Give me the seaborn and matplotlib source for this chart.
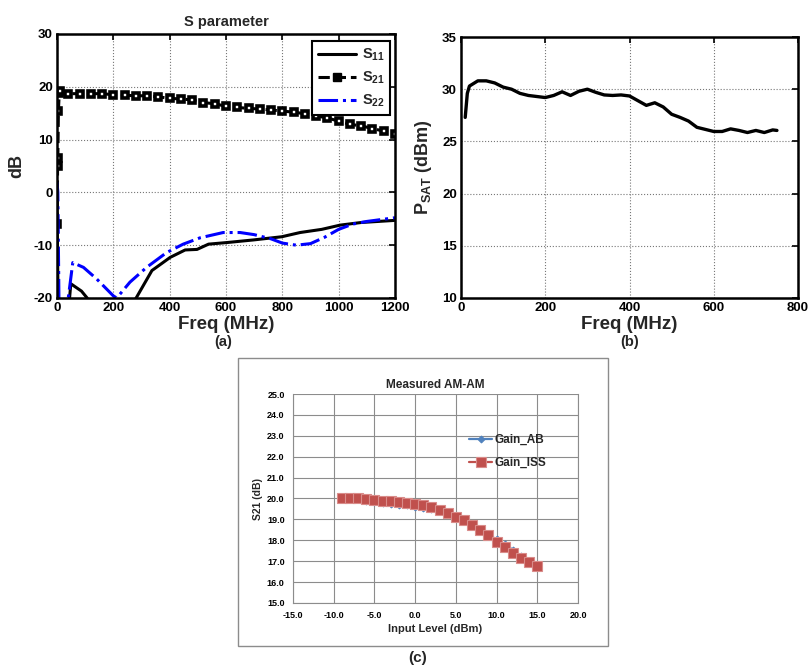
import numpy as np
import pandas as pd
import matplotlib
matplotlib.use("Agg")
import matplotlib.pyplot as plt
import seaborn as sns
from matplotlib.patches import Rectangle
from matplotlib.lines import Line2D

sns.set_style("white")
plt.rcParams['font.family'] = ['Liberation Sans', 'DejaVu Sans']
plt.rcParams['font.weight'] = 'bold'
plt.rcParams['axes.unicode_minus'] = False
plt.rcParams['mathtext.fontset'] = 'custom'
plt.rcParams['mathtext.rm'] = 'Liberation Sans:bold'
plt.rcParams['mathtext.it'] = 'Liberation Sans:bold'
plt.rcParams['mathtext.bf'] = 'Liberation Sans:bold'

# ---------------- data: panel (a) S parameters ----------------
s21_freq = [1, 2, 3, 5, 8, 12, 40, 80, 120, 160, 200, 240, 280, 320, 360, 400, 440, 480,
            520, 560, 600, 640, 680, 720, 760, 800, 840, 880, 920, 960, 1000, 1040,
            1080, 1120, 1160, 1200]
s21_db = [-6.0, 5.0, 6.5, 15.5, 18.8, 19.2, 18.7, 18.7, 18.7, 18.7, 18.5, 18.4, 18.3,
          18.3, 18.1, 17.8, 17.7, 17.5, 17.0, 16.8, 16.3, 16.1, 15.9, 15.8, 15.6, 15.4,
          15.2, 14.9, 14.5, 14.1, 13.5, 12.9, 12.6, 12.1, 11.6, 11.1]

s11_freq = [0, 5, 35, 49, 87, 107, 120, 260, 281, 337, 402, 455, 497, 538, 603, 698,
            798, 863, 940, 1005, 1080, 1200]
s11_db = [-2.0, -26.0, -26.0, -17.3, -18.7, -20.0, -22.0, -22.0, -20.0, -14.8, -12.3,
          -10.9, -10.8, -9.8, -9.5, -9.0, -8.4, -7.6, -7.0, -6.2, -5.7, -5.3]

s22_freq = [0, 3, 8, 30, 40, 56, 94, 141, 200, 212, 259, 318, 389, 448, 508, 590, 650,
            700, 760, 800, 850, 900, 950, 1000, 1050, 1100, 1200]
s22_db = [2.0, 0.0, -26.0, -26.0, -20.0, -13.3, -14.2, -16.4, -19.6, -20.0, -17.0,
          -14.2, -11.4, -9.8, -8.6, -7.6, -7.6, -8.0, -8.8, -9.6, -10.0, -9.7, -8.5,
          -7.0, -6.0, -5.5, -4.8]

# ---------------- data: panel (b) PSAT ----------------
psat_freq = [10, 15, 20, 40, 60, 80, 100, 120, 140, 160, 180, 200, 220, 240, 260, 280,
             300, 320, 340, 360, 380, 400, 420, 440, 460, 480, 500, 520, 540, 560, 580,
             600, 620, 640, 660, 680, 700, 720, 740, 750]
psat_dbm = [27.3, 29.6, 30.3, 30.8, 30.8, 30.6, 30.2, 30.0, 29.6, 29.4, 29.3, 29.2,
            29.4, 29.75, 29.4, 29.8, 30.0, 29.7, 29.45, 29.4, 29.45, 29.35, 28.9, 28.45,
            28.7, 28.3, 27.6, 27.3, 26.95, 26.35, 26.15, 25.95, 25.95, 26.2, 26.05,
            25.85, 26.05, 25.85, 26.1, 26.05]

# ---------------- data: panel (c) AM-AM ----------------
input_level = [-9, -8, -7, -6, -5, -4, -3, -2, -1, 0, 1, 2, 3, 4, 5, 6, 7, 8, 9, 10,
               11, 12, 13, 14, 15]
gain_ab = [20.0, 20.0, 19.97, 19.88, 19.83, 19.8, 19.75, 19.7, 19.67, 19.6, 19.55,
           19.48, 19.38, 19.25, 19.1, 18.9, 18.7, 18.5, 18.25, 18.05, 17.8, 17.55,
           17.25, 17.0, 16.8]
gain_iss = [20.0, 20.0, 20.0, 19.97, 19.93, 19.9, 19.87, 19.83, 19.78, 19.72, 19.67,
            19.57, 19.45, 19.3, 19.1, 18.95, 18.75, 18.5, 18.25, 17.93, 17.67, 17.4,
            17.15, 16.97, 16.78]

fig = plt.figure(figsize=(8.09, 6.70), dpi=100)


def matlab_style(ax):
    for sp in ax.spines.values():
        sp.set_visible(True)
        sp.set_color('black')
        sp.set_linewidth(1.8)
    ax.grid(True, color='#777777', linestyle=':', linewidth=0.8)
    ax.tick_params(direction='in', length=4, width=1.2, top=True, right=True,
                   labelsize=9.5, pad=3, colors='black')
    for lab in ax.get_xticklabels() + ax.get_yticklabels():
        lab.set_fontweight('bold')


# ---------------- panel (a) ----------------
axa = fig.add_axes([57/809, 1-298/670, 338/809, 264/670])
sns.lineplot(x=s11_freq, y=s11_db, ax=axa, color='black', linewidth=2.2,
             estimator=None, sort=False)
sns.lineplot(x=s21_freq, y=s21_db, ax=axa, color='black', linewidth=2.2,
             linestyle='--', marker='s', markersize=5.0, markerfacecolor='white',
             markeredgecolor='black', markeredgewidth=2.6, estimator=None, sort=False)
sns.lineplot(x=s22_freq, y=s22_db, ax=axa, color='#0000ff', linewidth=2.2,
             linestyle='-.', estimator=None, sort=False)
axa.set_xlim(0, 1200)
axa.set_ylim(-20, 30)
axa.set_xticks([0, 200, 400, 600, 800, 1000, 1200])
axa.set_yticks([-20, -10, 0, 10, 20, 30])
matlab_style(axa)
axa.set_title('S parameter', fontsize=10.5, fontweight='bold', pad=6)
axa.set_xlabel('Freq (MHz)', fontsize=13.5, fontweight='bold', labelpad=1)
axa.set_ylabel('dB', fontsize=13, fontweight='bold', labelpad=6)
handles = [Line2D([], [], color='black', lw=2.2),
           Line2D([], [], color='black', lw=2.2, ls='--', marker='s', markersize=5.5,
                  markerfacecolor='black', markeredgecolor='black'),
           Line2D([], [], color='#0000ff', lw=2.2, ls='-.')]
leg = axa.legend(handles, [r'$\mathrm{S_{11}}$', r'$\mathrm{S_{21}}$', r'$\mathrm{S_{22}}$'],
                 loc='upper right', bbox_to_anchor=(0.995, 0.985), fontsize=10.5,
                 frameon=True, fancybox=False, framealpha=1, edgecolor='black',
                 handlelength=2.6, borderpad=0.4, labelspacing=0.45,
                 handletextpad=0.4, borderaxespad=0.2)
leg.get_frame().set_linewidth(1.5)

# ---------------- panel (b) ----------------
axb = fig.add_axes([461/809, 1-298/670, 337/809, 261/670])
sns.lineplot(x=psat_freq, y=psat_dbm, ax=axb, color='black', linewidth=2.4,
             estimator=None, sort=False)
axb.set_xlim(0, 800)
axb.set_ylim(10, 35)
axb.set_xticks([0, 200, 400, 600, 800])
axb.set_yticks([10, 15, 20, 25, 30, 35])
matlab_style(axb)
axb.set_xlabel('Freq (MHz)', fontsize=13.5, fontweight='bold', labelpad=1)
axb.set_ylabel(r'$\mathrm{P_{SAT}}$ (dBm)', fontsize=13, fontweight='bold', labelpad=6)

# ---------------- panel (c) ----------------
fig.patches.append(Rectangle((238/809, 1-646/670), 370/809, 288/670,
                             transform=fig.transFigure, fill=False,
                             edgecolor='#8c8c8c', linewidth=1.0))
axc = fig.add_axes([293/809, 1-603/670, 285/809, 209/670])
sns.lineplot(x=input_level, y=gain_ab, ax=axc, color='#4F81BD', linewidth=1.6,
             marker='D', markersize=3.5, markeredgecolor='#4F81BD',
             estimator=None, sort=False, label='Gain_AB')
sns.lineplot(x=input_level, y=gain_iss, ax=axc, color='#C0504D', linewidth=1.6,
             marker='s', markersize=6.5, markeredgecolor='#D98C8A', markeredgewidth=0.8,
             estimator=None, sort=False, label='Gain_ISS')
axc.set_xlim(-15, 20)
axc.set_ylim(15, 25)
xt = [-15, -10, -5, 0, 5, 10, 15, 20]
yt = [15, 16, 17, 18, 19, 20, 21, 22, 23, 24, 25]
axc.set_xticks(xt)
axc.set_yticks(yt)
axc.set_xticklabels([f'{v:.1f}' for v in xt])
axc.set_yticklabels([f'{v:.1f}' for v in yt])
axc.grid(True, color='#8c8c8c', linewidth=0.8)
for name, sp in axc.spines.items():
    sp.set_visible(name in ('left', 'bottom', 'right'))
    sp.set_color('#8c8c8c')
    sp.set_linewidth(0.8)
axc.tick_params(direction='out', length=3, width=0.8, colors='#8c8c8c',
                labelcolor='black', labelsize=6.5, pad=3)
for lab in axc.get_xticklabels() + axc.get_yticklabels():
    lab.set_fontweight('bold')
axc.set_title('Measured AM-AM', fontsize=8.5, fontweight='bold', pad=4)
axc.set_xlabel('Input Level (dBm)', fontsize=8, fontweight='bold', labelpad=3)
axc.set_ylabel('S21 (dB)', fontsize=7.5, fontweight='bold', labelpad=3)
axc.legend(loc='upper left', bbox_to_anchor=(0.6, 0.83), frameon=False,
           fontsize=8.5, handlelength=2.0, handletextpad=0.2, labelspacing=0.9,
           borderaxespad=0)

# ---------------- panel labels ----------------
fig.text(223/809, 1-342/670, '(a)', ha='center', va='center', fontsize=10.5,
         fontweight='bold')
fig.text(630/809, 1-342/670, '(b)', ha='center', va='center', fontsize=10.5,
         fontweight='bold')
fig.text(418/809, 1-658/670, '(c)', ha='center', va='center', fontsize=11,
         fontweight='bold')

fig.savefig('out.png', dpi=100)
